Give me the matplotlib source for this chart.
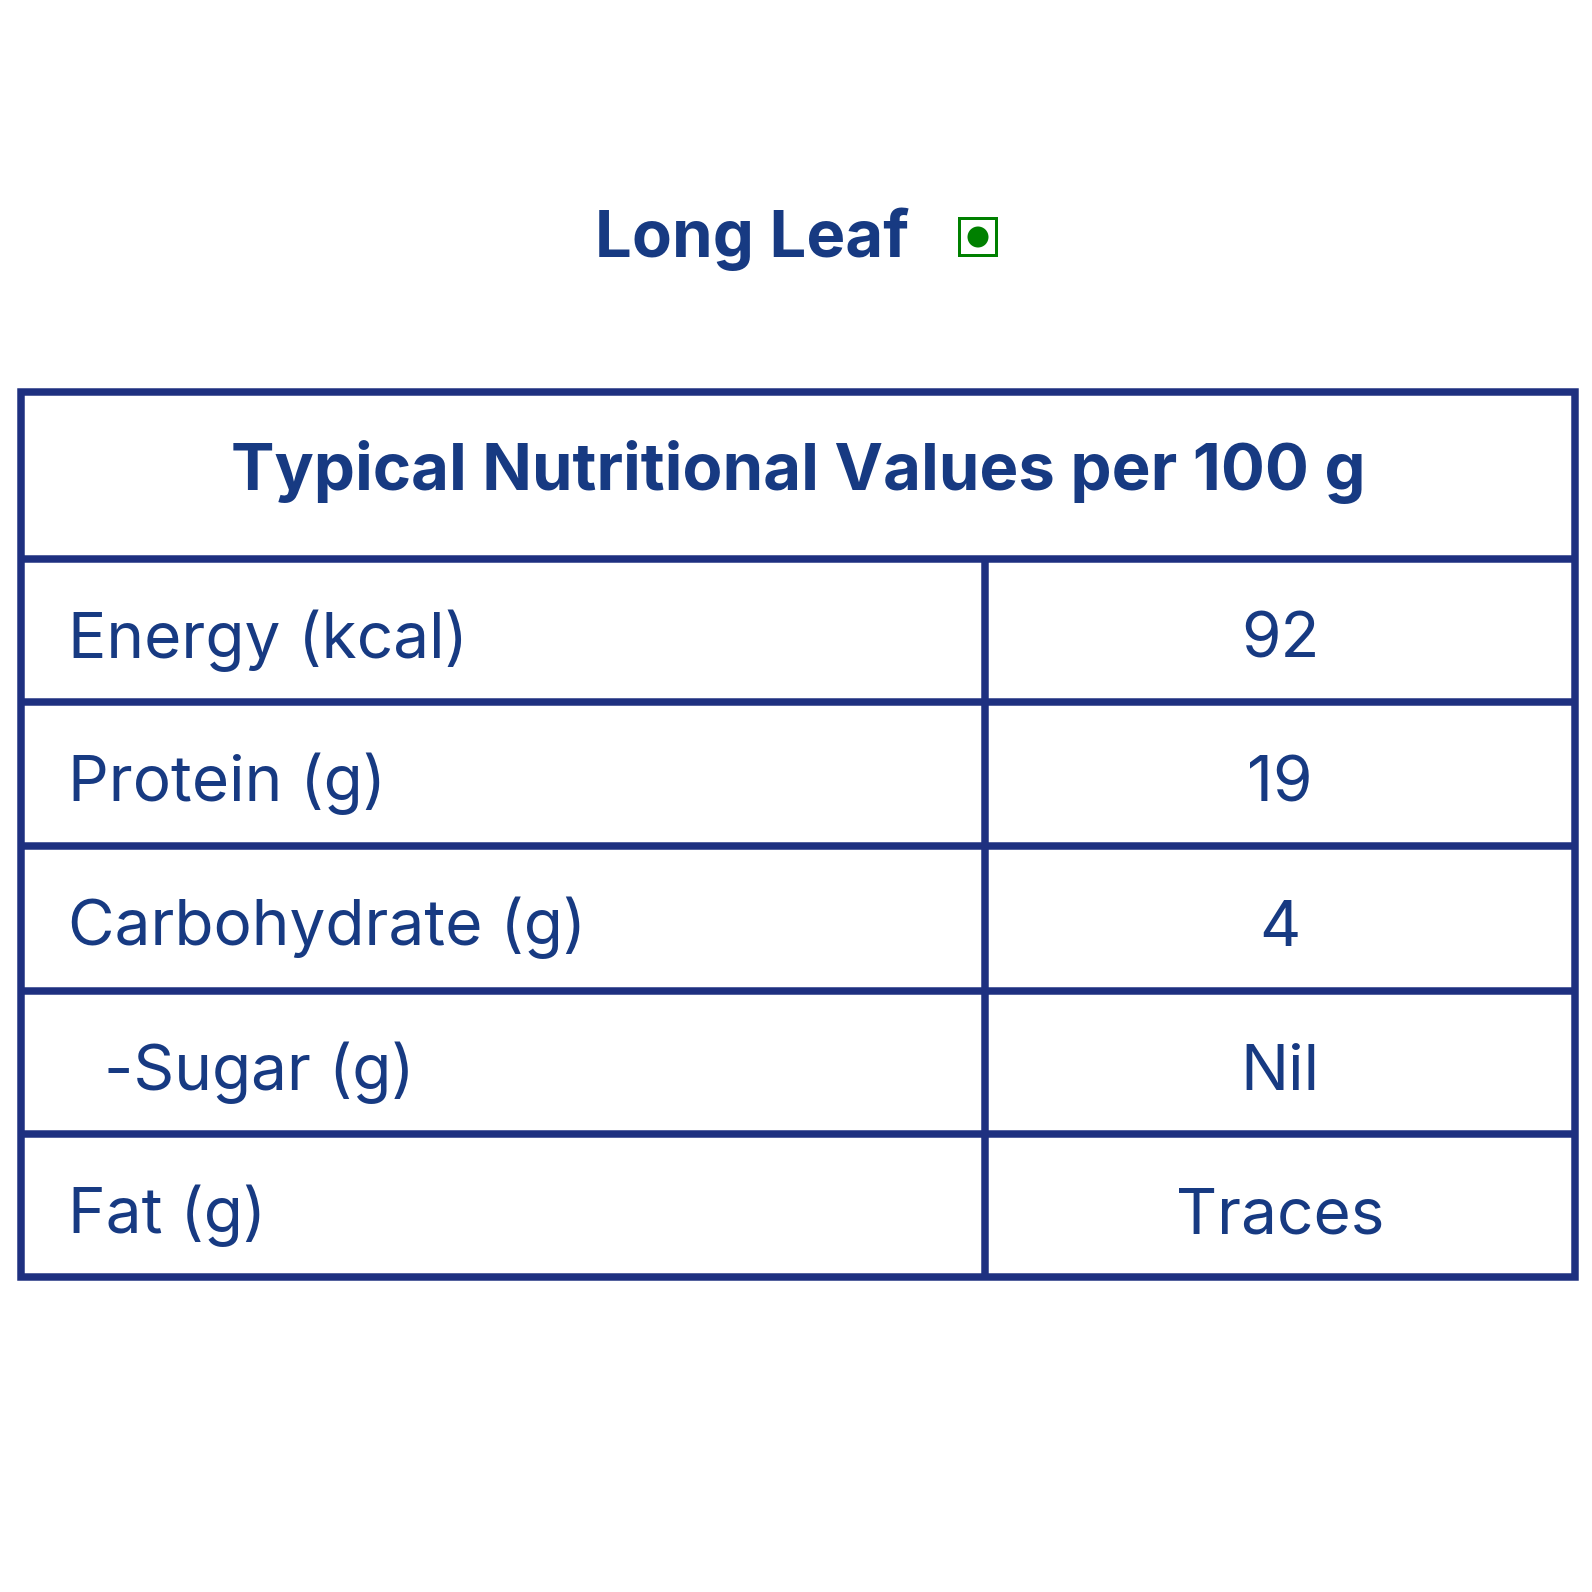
import matplotlib
matplotlib.use('Agg')
import matplotlib.pyplot as plt
from matplotlib.patches import Rectangle, Circle

# table content
title = 'Long Leaf'
header = 'Typical Nutritional Values per 100 g'
nutrients = ['Energy (kcal)', 'Protein (g)', 'Carbohydrate (g)', '-Sugar (g)', 'Fat (g)']
values = ['92', '19', '4', 'Nil', 'Traces']
indent = [False, False, False, True, False]

TEXT = '#173a82'
LINE = '#1e3080'
GREEN = '#008000'
FONT = 'Inter'

fig = plt.figure(figsize=(15.92, 15.92), dpi=100)
ax = fig.add_axes([0, 0, 1, 1])
ax.set_xlim(0, 1592)
ax.set_ylim(1592, 0)
ax.axis('off')

left, right, top, bottom = 21, 1575, 392, 1277
col = 985
row_lines = [559, 702, 845.5, 990.5, 1134, 1277]
lw = 7.5 * 72 / 100

ax.add_patch(Rectangle((left, top), right - left, bottom - top, fill=False, ec=LINE, lw=lw, joinstyle='miter'))
for y in row_lines[:-1]:
    ax.plot([left, right], [y, y], color=LINE, lw=lw, solid_capstyle='butt')
ax.plot([col, col], [row_lines[0], bottom], color=LINE, lw=lw, solid_capstyle='butt')

ax.text(595, 257, title, color=TEXT, fontsize=47, fontweight='bold', family=FONT, ha='left', va='baseline')
ax.add_patch(Rectangle((958.5, 217.5), 37, 37, fill=False, ec=GREEN, lw=3 * 72 / 100))
ax.add_patch(Circle((978, 237), 10.5, color=GREEN, lw=0))

ax.text(798, 490, header, color=TEXT, fontsize=47, fontweight='bold', family=FONT, ha='center', va='baseline')

for i, (name, val) in enumerate(zip(nutrients, values)):
    base = (row_lines[i] + row_lines[i + 1]) / 2 + 27.5
    ax.text(104 if indent[i] else 68, base, name, color=TEXT, fontsize=46, family=FONT, ha='left', va='baseline')
    ax.text(1280, base, val, color=TEXT, fontsize=46, family=FONT, ha='center', va='baseline')

fig.savefig('out.png', dpi=100, facecolor='white')
